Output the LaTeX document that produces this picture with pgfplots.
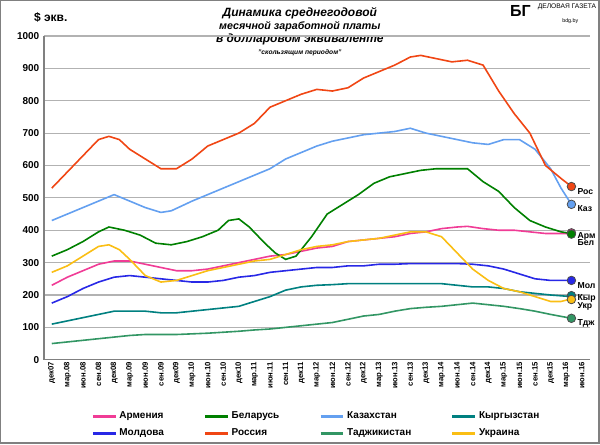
\documentclass[border=0pt]{standalone}
\usepackage{pgfplots}
\pgfplotsset{compat=1.18}
\usepackage{fontspec}
\setmainfont{Liberation Sans}
\definecolor{arm}{RGB}{240,60,150}
\definecolor{bel}{RGB}{0,128,0}
\definecolor{kaz}{RGB}{100,160,240}
\definecolor{kyr}{RGB}{0,128,128}
\definecolor{mol}{RGB}{40,40,230}
\definecolor{ros}{RGB}{240,70,20}
\definecolor{tdj}{RGB}{50,150,100}
\definecolor{ukr}{RGB}{250,190,20}
\begin{document}
\begin{tikzpicture}[x=1pt,y=1pt]
\draw[gray,line width=1pt] (0.5,0.5) rectangle (449.5,332.5);
\node[font=\bfseries\itshape\small,align=center,anchor=north] at (225,331) {Динамика среднегодовой\\[-1pt]{\footnotesize месячной заработной платы}\\[-1pt]в долларовом эквиваленте\\[-2pt]{\tiny "скользящим периодом"}};
\node[font=\bfseries\small,anchor=west] at (22,320) {\$ экв.};
\node[font=\bfseries\large,anchor=east,inner sep=0.5pt] at (399,325) {БГ};
\node[font=\fontsize{5}{5}\selectfont,anchor=west,inner sep=0.5pt] at (403,328) {ДЕЛОВАЯ ГАЗЕТА};
\node[font=\fontsize{4}{4}\selectfont,inner sep=0.3pt] at (428,317) {bdg.by};
\begin{axis}[at={(33pt,63pt)},anchor=south west,scale only axis,
 width=409.5pt,height=243pt,
 xmin=-1.5,xmax=103.5,ymin=0,ymax=1000,
 ytick={0,100,...,1000},
 xtick={0,3,...,102},
 xticklabels={дек07,мар.08,июн.08,сен.08,дек08,мар.09,июн.09,сен.09,дек09,мар.10,июн.10,сен.10,дек10,мар.11,июн.11,сен.11,дек11,мар.12,июн.12,сен.12,дек12,мар.13,июн.13,сен.13,дек13,мар.14,июн.14,сен.14,дек14,мар.15,июн.15,сен.15,дек15,мар.16,июн.16},
 x tick label style={rotate=90,anchor=east,font=\bfseries\fontsize{5.8}{6}\selectfont,inner sep=1.5pt},
 y tick label style={font=\bfseries\fontsize{7.5}{8}\selectfont,/pgf/number format/1000 sep={}},
 /pgf/number format/assume math mode=true,
 ymajorgrids, grid style={gray!60,line width=0.8pt},
 axis x line*=bottom, axis y line*=left,
 axis line style={gray,line width=0.8pt},
 major tick length=0pt,
 legend style={at={(0.5,-0.14)},anchor=north,draw=none,fill=none,
   legend columns=4,font=\bfseries\fontsize{7.5}{9}\selectfont,
   nodes={inner ysep=3pt},
   /tikz/every even column/.append style={column sep=28pt}},
 legend image post style={line width=1.8pt},
 legend cell align=left,
 endpt/.style={only marks,mark=*,mark size=3.2pt,mark options={draw=black!70,line width=0.6pt,fill=#1},
  nodes near coords,point meta=explicit symbolic,
  every node near coord/.append style={anchor=west,font=\bfseries\fontsize{6.5}{7}\selectfont,xshift=1pt,yshift=-3.5pt}},
 clip=false]
\addplot[arm,line width=1.2pt,no markers] coordinates {(0,230)(3,255)(6,275)(9,295)(12,305)(15,305)(18,295)(21,285)(24,275)(27,275)(30,280)(33,290)(36,300)(39,310)(42,320)(45,325)(48,335)(51,345)(54,350)(57,365)(60,370)(63,375)(66,380)(69,390)(72,395)(75,405)(78,410)(80,412)(83,405)(86,400)(89,400)(92,395)(95,390)(100,390)};
\addlegendentry{Армения}
\addplot[bel,line width=1.2pt,no markers] coordinates {(0,320)(3,340)(6,365)(9,395)(11,410)(14,400)(17,385)(20,360)(23,355)(26,365)(29,380)(32,400)(34,430)(36,435)(38,410)(41,360)(43,330)(45,310)(47,320)(50,380)(53,450)(56,480)(59,510)(62,545)(65,565)(68,575)(71,585)(74,590)(77,590)(80,590)(83,550)(86,520)(89,470)(92,430)(95,410)(98,395)(100,390)};
\addlegendentry{Беларусь}
\addplot[kaz,line width=1.2pt,no markers] coordinates {(0,430)(3,450)(6,470)(9,490)(12,510)(15,490)(18,470)(21,455)(23,460)(27,490)(30,510)(33,530)(36,550)(39,570)(42,590)(45,620)(48,640)(51,660)(54,675)(57,685)(60,695)(63,700)(66,705)(69,715)(72,700)(75,690)(78,680)(81,670)(84,665)(87,680)(90,680)(93,650)(96,590)(98,530)(100,480)};
\addlegendentry{Казахстан}
\addplot[kyr,line width=1.2pt,no markers] coordinates {(0,110)(3,120)(6,130)(9,140)(12,150)(15,150)(18,150)(21,145)(24,145)(27,150)(30,155)(33,160)(36,165)(39,180)(42,195)(45,215)(48,225)(51,230)(54,232)(57,235)(60,235)(63,235)(66,235)(69,235)(72,235)(75,235)(78,230)(81,225)(84,225)(87,220)(90,210)(93,205)(96,200)(100,195)};
\addlegendentry{Кыргызстан}
\addplot[mol,line width=1.2pt,no markers] coordinates {(0,175)(3,195)(6,220)(9,240)(12,255)(15,260)(18,255)(21,250)(24,245)(27,240)(30,240)(33,245)(36,255)(39,260)(42,270)(45,275)(48,280)(51,285)(54,285)(57,290)(60,290)(63,295)(66,295)(69,297)(72,297)(75,297)(78,297)(81,295)(84,290)(87,280)(90,265)(93,250)(96,245)(100,245)};
\addlegendentry{Молдова}
\addplot[ros,line width=1.2pt,no markers] coordinates {(0,530)(3,580)(6,630)(9,680)(11,690)(13,680)(15,650)(18,620)(21,590)(24,590)(27,620)(30,660)(33,680)(36,700)(39,730)(42,780)(45,800)(48,820)(51,835)(54,830)(57,840)(60,870)(63,890)(66,910)(69,935)(71,940)(74,930)(77,920)(80,925)(83,910)(86,830)(89,760)(92,700)(95,600)(98,560)(100,535)};
\addlegendentry{Россия}
\addplot[tdj,line width=1.2pt,no markers] coordinates {(0,50)(3,55)(6,60)(9,65)(12,70)(15,75)(18,78)(21,78)(24,78)(27,80)(30,82)(33,85)(36,88)(39,92)(42,95)(45,100)(48,105)(51,110)(54,115)(57,125)(60,135)(63,140)(66,150)(69,158)(72,162)(75,165)(78,170)(81,175)(84,170)(87,165)(90,158)(93,150)(96,140)(100,128)};
\addlegendentry{Таджикистан}
\addplot[ukr,line width=1.2pt,no markers] coordinates {(0,270)(3,290)(6,320)(9,350)(11,355)(13,340)(15,310)(18,260)(21,240)(24,245)(27,260)(30,275)(33,285)(36,295)(39,305)(42,310)(45,325)(48,340)(51,350)(54,355)(57,365)(60,370)(63,375)(66,385)(69,395)(72,395)(75,380)(78,330)(81,280)(84,245)(87,220)(90,210)(93,195)(96,180)(98,180)(100,188)};
\addlegendentry{Украина}
\addplot[endpt=ros,forget plot] coordinates {(100,535)[Рос]};
\addplot[endpt=kaz,forget plot] coordinates {(100,480)[Каз]};
\addplot[endpt=arm,forget plot,every node near coord/.append style={yshift=1pt}] coordinates {(100,392)[Арм]};
\addplot[endpt=bel,forget plot,every node near coord/.append style={yshift=-3pt}] coordinates {(100,388)[Бел]};
\addplot[endpt=mol,forget plot] coordinates {(100,245)[Мол]};
\addplot[endpt=kyr,forget plot,every node near coord/.append style={yshift=1.5pt}] coordinates {(100,198)[Кыр]};
\addplot[endpt=ukr,forget plot,every node near coord/.append style={yshift=-2pt}] coordinates {(100,186)[Укр]};
\addplot[endpt=tdj,forget plot] coordinates {(100,128)[Тдж]};
\end{axis}
\end{tikzpicture}
\end{document}
